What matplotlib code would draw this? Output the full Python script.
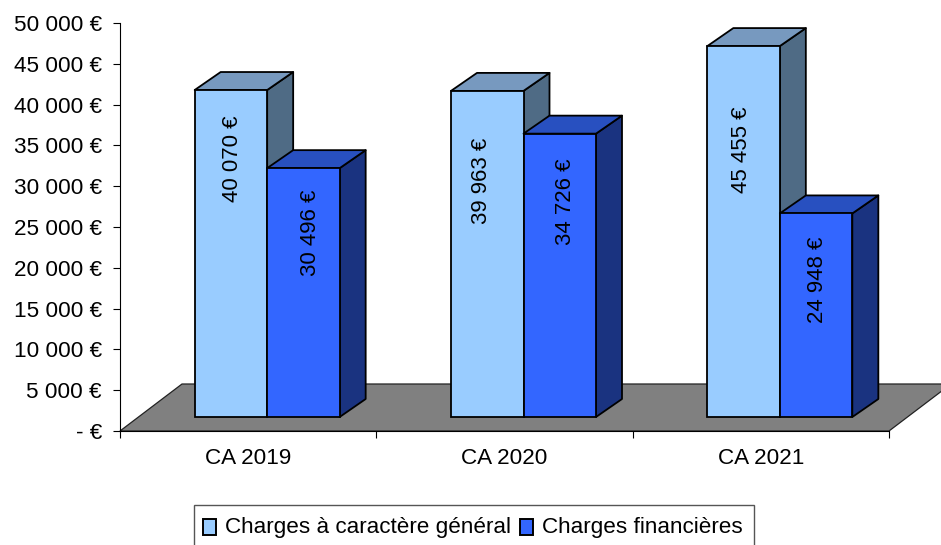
import matplotlib
matplotlib.use("Agg")
import matplotlib.pyplot as plt
from matplotlib.patches import Patch, Polygon, Rectangle
from matplotlib.legend_handler import HandlerPatch
from matplotlib.transforms import Affine2D

plt.rcParams['font.family'] = ['Liberation Sans', 'DejaVu Sans']

categories = ['CA 2019', 'CA 2020', 'CA 2021']
series_names = ['Charges à caractère général', 'Charges financières']
general = [40070, 39963, 45455]
financial = [30496, 34726, 24948]
general_labels = ['40 070 €', '39 963 €', '45 455 €']
financial_labels = ['30 496 €', '34 726 €', '24 948 €']
y_ticks = [0, 5000, 10000, 15000, 20000, 25000, 30000, 35000, 40000, 45000, 50000]
y_labels = ['- €', '5 000 €', '10 000 €', '15 000 €', '20 000 €', '25 000 €',
            '30 000 €', '35 000 €', '40 000 €', '45 000 €', '50 000 €']

W, H = 941, 545
FS = 16.2
fig = plt.figure(figsize=(W / 100, H / 100), dpi=100)
ax = fig.add_axes([120 / W, (H - 431) / H, 769 / W, 408 / H])
ax.set_xlim(0, 3)
ax.set_ylim(0, 50000)
for s in ['top', 'right']:
    ax.spines[s].set_visible(False)
for s in ['left', 'bottom']:
    ax.spines[s].set_linewidth(0.8)
    ax.spines[s].set_zorder(1.5)

ax.set_yticks(y_ticks, y_labels, fontsize=FS)
ax.set_xticks([0, 1, 2, 3], [''] * 4)
ax.set_xticks([0.5, 1.5, 2.5], categories, minor=True, fontsize=FS)
ax.tick_params(axis='y', length=5, width=0.8, pad=8)
ax.tick_params(axis='x', which='major', length=5, width=0.8)
ax.tick_params(axis='x', which='minor', length=0, pad=12)

px_x = 3 / 769
px_y = 50000 / 408
LW = 1.3


def shift(dx, dy):
    return ax.transData + Affine2D().translate(dx, dy)


# floor
ax.add_patch(Polygon([(0, 0), (3, 0), (3 + 62 * px_x, 47 * px_y), (62 * px_x, 47 * px_y)],
                     closed=True, facecolor='#808080', edgecolor='#222222', lw=0.9,
                     clip_on=False, zorder=1))

front = shift(19, 14)
DX, DY = 26 * px_x, 18 * px_y
BW = 72.5 * px_x


def bar3d(x0, val, c_front, c_top, c_side):
    x1 = x0 + BW
    side = [(x1, 0), (x1 + DX, DY), (x1 + DX, val + DY), (x1, val)]
    top = [(x0, val), (x0 + DX, val + DY), (x1 + DX, val + DY), (x1, val)]
    for pts, col in ((side, c_side), (top, c_top)):
        ax.add_patch(Polygon(pts, closed=True, facecolor=col, edgecolor='black', lw=LW,
                             transform=front, clip_on=False, joinstyle='round', zorder=3))
    ax.bar([x0], [val], width=BW, align='edge', color=c_front, edgecolor='black', lw=LW,
           transform=front, clip_on=False, zorder=3)


gen_off = [(2, -25), (-6, -46.5), (-2.5, -60.5)]
fin_off = [(7.5, -21.5), (6, -24.5), (1.5, -23.5)]
for i in range(len(categories)):
    x_mid = i + 0.5
    bar3d(x_mid - BW, general[i], '#99CCFF', '#7799BF', '#4F6B85')
    bar3d(x_mid, financial[i], '#3366FF', '#2850C0', '#1A3380')
    ax.annotate(general_labels[i], xy=(x_mid - BW / 2, general[i]), xycoords=front,
                xytext=gen_off[i], textcoords='offset pixels', rotation=90,
                ha='center', va='top', fontsize=16, zorder=5, annotation_clip=False)
    ax.annotate(financial_labels[i], xy=(x_mid + BW / 2, financial[i]), xycoords=front,
                xytext=fin_off[i], textcoords='offset pixels', rotation=90,
                ha='center', va='top', fontsize=16, zorder=5, annotation_clip=False)

# legend box runs off the bottom of the image
fig.add_artist(Rectangle((194 / W, -5 / H), 560 / W, (H - 505 + 5) / H, transform=fig.transFigure,
                         facecolor='white', edgecolor='#555555', lw=1.0, zorder=4))
handles = [Patch(facecolor='#99CCFF', edgecolor='black', lw=1.4),
           Patch(facecolor='#3366FF', edgecolor='black', lw=1.4)]
leg = fig.legend(handles, series_names, ncol=2, loc='upper left',
                 bbox_to_anchor=(194 / W, (H - 508.5) / H), fontsize=16.2, frameon=False,
                 borderpad=0.4, handlelength=0.58, handleheight=0.58, handletextpad=0.4,
                 columnspacing=0.41, borderaxespad=0,
                 handler_map={Patch: HandlerPatch(ypad=-0.13)})
leg.set_zorder(5)

fig.savefig('out.png', dpi=100)
